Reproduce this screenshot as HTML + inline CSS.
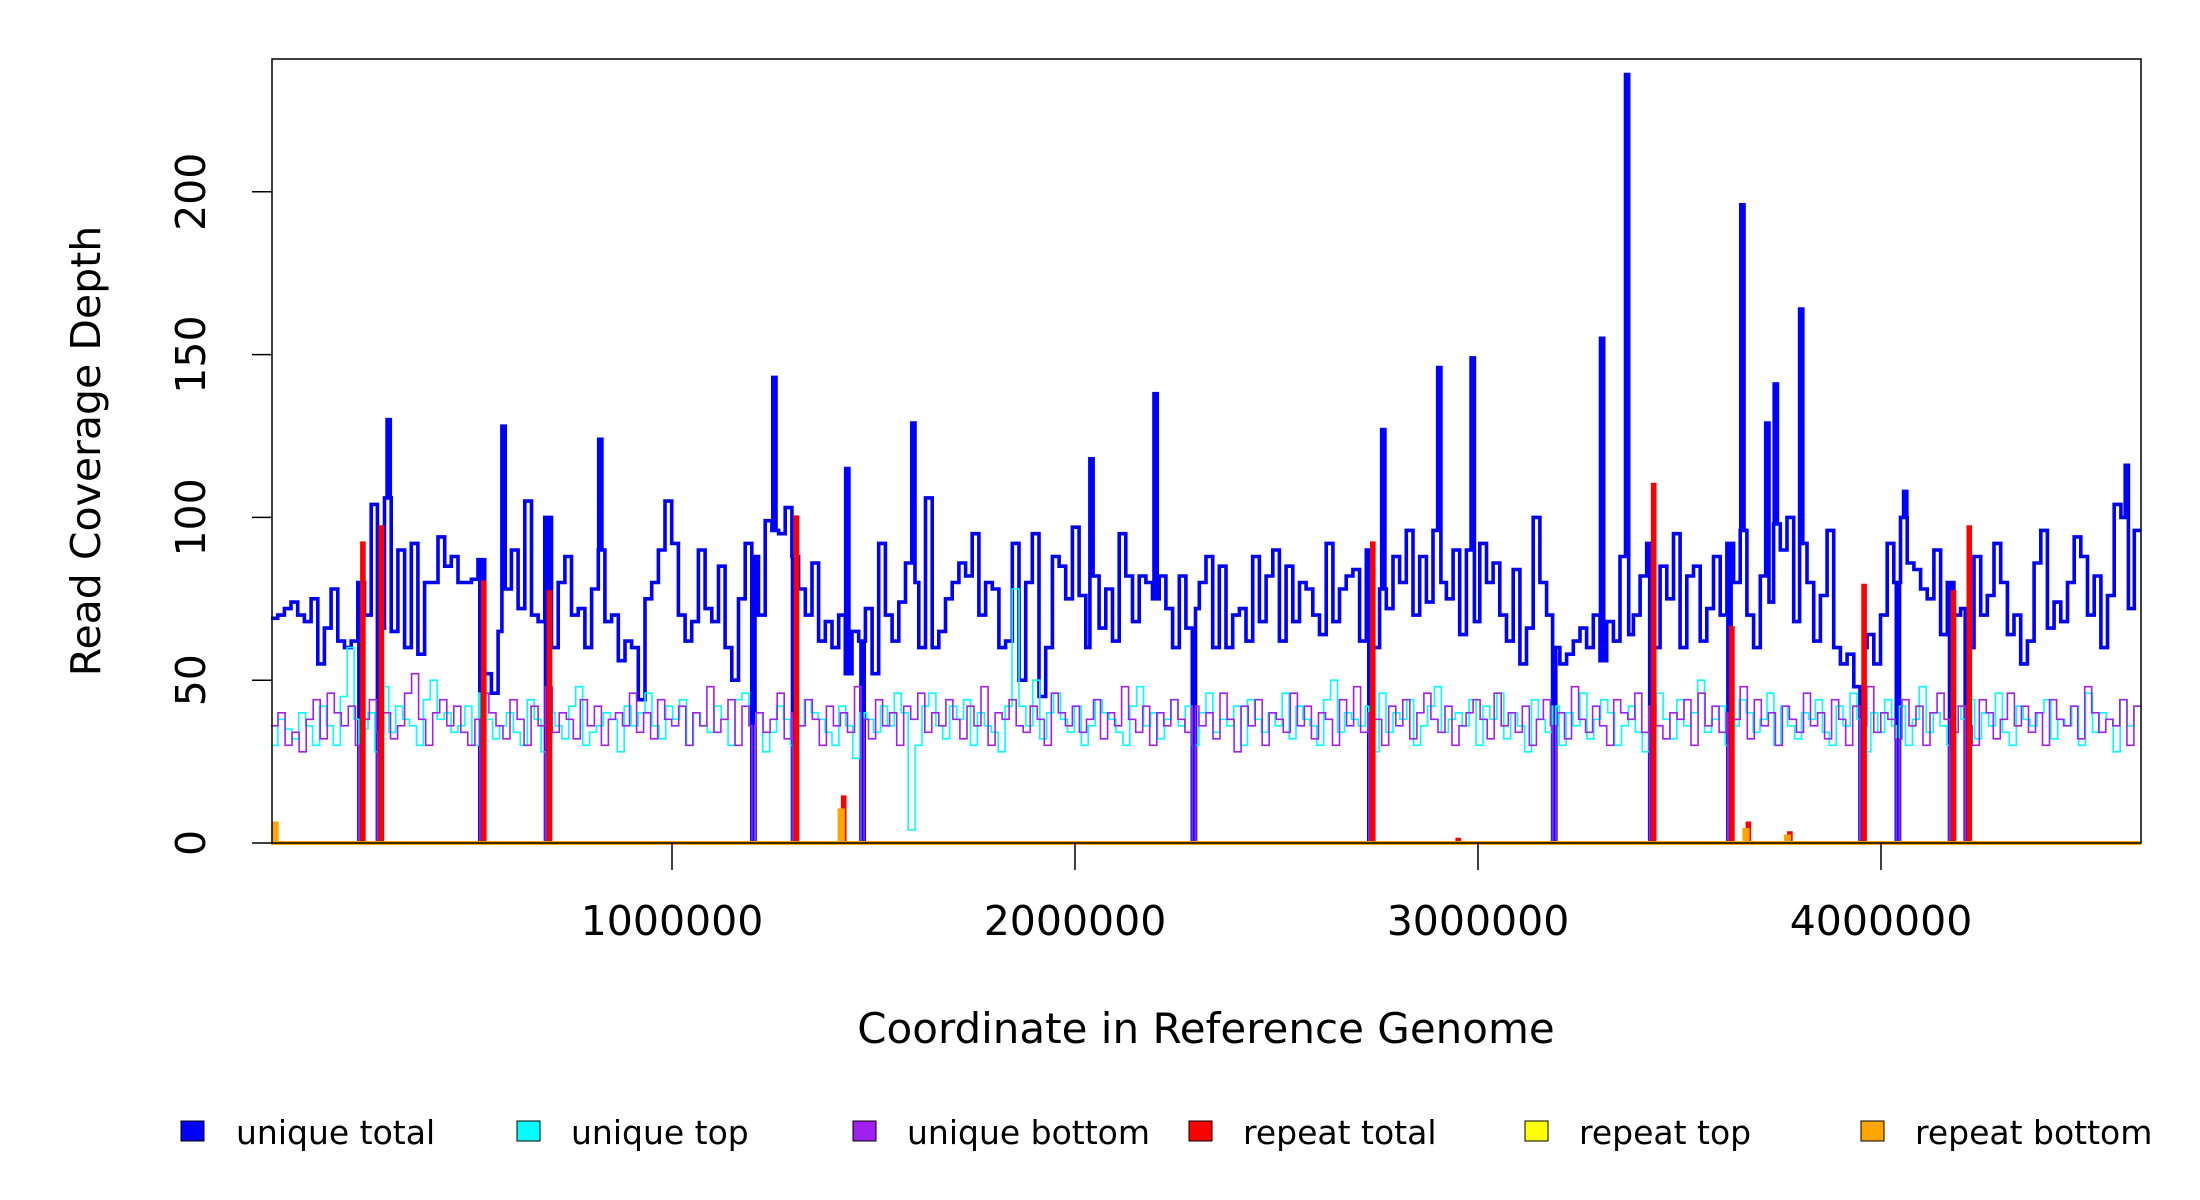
<!DOCTYPE html>
<html><head><meta charset="utf-8">
<style>
html,body{margin:0;padding:0;background:#fff;}
svg{display:block;font-family:"DejaVu Sans","Liberation Sans",sans-serif;}
</style></head>
<body>
<svg id="chart" width="2200" height="1200" viewBox="0 0 2200 1200" xmlns="http://www.w3.org/2000/svg">
  <rect x="0" y="0" width="2200" height="1200" fill="#fff"/>
  <g id="series"></g>
  <rect x="272" y="59" width="1869" height="784" fill="none" stroke="#000" stroke-width="1.5"/>
  <g id="axes"></g>
  <text x="1206" y="1043" font-size="42" text-anchor="middle">Coordinate in Reference Genome</text>
  <text transform="translate(100,451) rotate(-90)" font-size="41" text-anchor="middle">Read Coverage Depth</text>
  <g font-size="33">
    <g><rect x="181" y="1121" width="23" height="20" fill="#0000ff" stroke="#000"/><text x="236" y="1144">unique total</text></g>
    <g><rect x="517" y="1121" width="23" height="20" fill="#00ffff" stroke="#000"/><text x="571" y="1144">unique top</text></g>
    <g><rect x="853" y="1121" width="23" height="20" fill="#a020f0" stroke="#000"/><text x="907" y="1144">unique bottom</text></g>
    <g><rect x="1189" y="1121" width="23" height="20" fill="#ff0000" stroke="#000"/><text x="1243" y="1144">repeat total</text></g>
    <g><rect x="1525" y="1121" width="23" height="20" fill="#ffff00" stroke="#000"/><text x="1579" y="1144">repeat top</text></g>
    <g><rect x="1861" y="1121" width="23" height="20" fill="#ffa500" stroke="#000"/><text x="1915" y="1144">repeat bottom</text></g>
  </g>
</svg>
<script>
const xTicks = [1000000, 2000000, 3000000, 4000000];
const xTickLabels = ["1000000", "2000000", "3000000", "4000000"];
const yTicks = [0, 50, 100, 150, 200];
const yTickLabels = ["0", "50", "100", "150", "200"];
const genomeStart = 5000;
const genomeEnd = 4645000;
const uniqueTotal = [69,70,72,74,70,68,75,55,66,78,62,60,62,80,70,104,66,106,65,90,60,92,58,80,80,94,85,88,80,80,81,87,52,46,65,78,90,72,105,70,68,100,60,80,88,70,72,60,78,90,68,70,56,62,60,44,75,80,90,105,92,70,62,68,90,72,68,85,60,50,75,92,88,70,99,96,95,103,88,78,70,86,62,68,60,70,52,65,62,72,52,92,70,62,74,86,80,60,106,60,65,75,80,86,82,95,70,80,78,60,62,92,50,80,95,45,60,88,85,75,97,76,60,82,66,78,62,95,82,68,82,80,75,82,72,60,82,66,72,80,88,60,85,60,70,72,62,88,68,82,90,62,85,68,80,78,70,64,92,68,78,82,84,62,90,60,78,72,88,80,96,70,88,74,96,80,75,90,64,90,68,92,80,86,70,62,84,55,66,100,80,70,60,55,58,62,66,60,70,56,68,62,88,64,70,82,92,60,85,75,95,60,82,85,62,72,88,70,92,80,96,70,60,82,74,98,90,100,68,92,80,62,76,96,60,55,58,48,60,64,55,70,92,80,100,86,84,78,75,90,64,80,70,72,60,88,70,76,92,80,64,70,55,62,86,96,66,74,68,80,94,88,70,82,60,76,104,100,72,96];
const uniqueTop = [30,38,35,32,40,36,30,42,36,30,45,60,38,35,40,28,48,34,42,38,36,30,44,50,38,40,34,36,42,30,46,38,32,36,40,34,30,44,38,28,40,36,32,42,48,30,34,36,40,38,28,42,36,40,46,36,32,42,38,44,30,40,36,34,42,38,30,44,46,36,40,28,34,42,38,30,36,44,40,38,34,30,42,36,26,40,38,34,42,36,46,40,4,30,42,46,36,32,42,38,44,30,40,36,34,28,42,78,42,36,50,32,40,46,38,34,42,30,36,44,40,38,34,30,42,48,36,40,32,38,44,36,42,30,40,46,34,38,36,42,30,44,38,34,40,36,46,32,42,38,36,30,44,50,34,40,38,36,42,28,46,34,40,38,44,30,36,42,48,34,38,40,36,44,30,42,38,46,32,40,36,28,44,38,34,42,30,40,36,46,32,38,44,40,30,36,42,34,28,40,46,38,32,44,36,40,50,34,38,42,30,36,44,40,34,38,46,30,42,36,32,40,38,44,34,30,42,36,46,38,28,40,34,44,36,42,30,38,48,34,40,36,30,42,38,44,32,40,36,46,34,30,42,38,36,40,44,32,38,36,42,30,46,34,40,38,28,44,36,42];
const uniqueBottom = [36,40,30,34,28,38,44,32,46,40,36,42,30,38,44,34,40,32,36,46,52,38,30,40,44,36,42,34,30,38,46,40,36,32,44,38,30,42,36,48,34,40,38,32,44,36,42,30,38,40,36,46,34,40,32,44,38,36,42,30,40,36,48,34,38,44,30,42,36,40,34,38,46,32,40,36,44,38,30,42,36,40,34,48,38,32,44,36,40,30,42,38,46,34,40,36,44,38,32,42,36,48,30,40,38,44,36,34,42,38,30,46,40,36,42,34,38,44,32,40,36,48,38,34,42,30,40,36,44,38,34,42,36,40,32,46,38,28,42,36,44,30,40,38,34,46,36,42,32,40,38,30,44,36,48,34,40,38,30,42,36,44,32,40,46,38,34,42,30,36,40,44,38,32,46,36,40,34,42,30,38,44,36,40,32,48,38,34,42,36,30,44,40,38,46,34,42,36,32,40,38,44,30,46,36,42,34,40,38,48,32,44,36,40,30,42,38,34,46,36,40,32,44,38,30,42,36,48,34,40,38,32,44,36,42,30,40,46,38,34,42,36,30,44,40,32,38,46,36,42,34,40,30,44,38,36,42,32,48,40,34,38,36,44,30,42];
const spikePositions = [297000,582000,822000,1254000,1435000,1599000,2200000,2904000,2987000,3308000,3370000,3656000,3718000,3739000,3802000,2765000,2041000,4060000,4610000];
const spikeValues = [130,128,124,143,115,129,138,146,149,155,236,196,129,141,164,127,118,108,116];
const dropoutPositions = [227000,273000,527000,690000,1202000,1303000,1473000,2295000,2733000,3189000,3430000,3624000,3952000,4042000,4174000,4213000];
const repeatTotalPositions = [227000,273000,527000,690000,1303000,2733000,3430000,3624000,3952000,4174000,4213000,1420000,3665000,3768000,2945000];
const repeatTotalValues = [92,97,80,77,100,92,110,66,79,77,97,14,6,3,1];
const repeatBottomPositions = [15000,1420000,3665000,3768000];
const repeatBottomValues = [6,10,4,2];

const NS = "http://www.w3.org/2000/svg";
function xs(g){ return 269 + 403 * g / 1e6; }
function ys(v){ return 843 - v * 3.256; }
const W = 8000;

function steps(base, overrides){
  const n = base.length, bw = (genomeEnd - genomeStart) / n;
  let b = [];
  for (let i = 0; i <= n; i++) b.push(genomeStart + i * bw);
  overrides.forEach(o => { b.push(o[0]); b.push(o[1]); });
  b = b.filter(v => v >= genomeStart && v <= genomeEnd).sort((a, c) => a - c);
  let d = "", first = true;
  for (let i = 0; i < b.length - 1; i++) {
    if (b[i + 1] - b[i] < 1) continue;
    const m = (b[i] + b[i + 1]) / 2;
    let v = base.length ? base[Math.min(n - 1, Math.floor((m - genomeStart) / bw))] : 0;
    overrides.forEach(o => { if (m > o[0] && m < o[1]) v = o[2]; });
    const x0 = xs(b[i]).toFixed(1), x1 = xs(b[i + 1]).toFixed(1), y = ys(v).toFixed(1);
    d += (first ? "M" + x0 + "," + y : "V" + y + "H" + x0) + "H" + x1;
    first = false;
  }
  return d;
}
function zeros(n){ const a = []; for (let i = 0; i < n; i++) a.push(0); return a; }

const layer = document.getElementById("series");
function addPath(d, color, w, name){
  const p = document.createElementNS(NS, "path");
  p.setAttribute("d", d);
  p.setAttribute("fill", "none");
  p.setAttribute("stroke", color);
  p.setAttribute("stroke-width", w);
  
  
  layer.appendChild(p);
}
const drop = dropoutPositions.map(p => [p - W / 2, p + W / 2, 0]);
const spk = spikePositions.map((p, i) => [p - W / 2, p + W / 2, spikeValues[i]]);
addPath(steps(uniqueTotal, spk.concat(drop)), "#0000ff", 3.6, "series-unique-total");
addPath(steps(uniqueTop, drop), "#00ffff", 1.6, "series-unique-top");
addPath(steps(uniqueBottom, drop), "#a020f0", 1.6, "series-unique-bottom");
addPath(steps(zeros(1), repeatTotalPositions.map((p, i) => [p + W / 2, p + W / 2 + 4000, repeatTotalValues[i]])), "#ff0000", 4, "series-repeat-total");
addPath(steps(zeros(1), []), "#ffff00", 4, "series-repeat-top");
addPath(steps(zeros(1), repeatBottomPositions.map((p, i) => [p - W / 2, p + W / 2, repeatBottomValues[i]])), "#ffa500", 4, "series-repeat-bottom");

const axes = document.getElementById("axes");
xTicks.forEach((t, i) => {
  const l = document.createElementNS(NS, "line");
  l.setAttribute("x1", xs(t)); l.setAttribute("x2", xs(t));
  l.setAttribute("y1", 843); l.setAttribute("y2", 870);
  l.setAttribute("stroke", "#000"); l.setAttribute("stroke-width", 1.5);
  
  
  axes.appendChild(l);
  const tx = document.createElementNS(NS, "text");
  tx.setAttribute("x", xs(t)); tx.setAttribute("y", 935);
  tx.setAttribute("font-size", "41"); tx.setAttribute("text-anchor", "middle");
  tx.textContent = xTickLabels[i];
  
  
  axes.appendChild(tx);
});
yTicks.forEach((t, i) => {
  const l = document.createElementNS(NS, "line");
  l.setAttribute("x1", 252); l.setAttribute("x2", 272);
  l.setAttribute("y1", ys(t)); l.setAttribute("y2", ys(t));
  l.setAttribute("stroke", "#000"); l.setAttribute("stroke-width", 1.5);
  
  
  axes.appendChild(l);
  const tx = document.createElementNS(NS, "text");
  tx.setAttribute("transform", "translate(205," + ys(t) + ") rotate(-90)");
  tx.setAttribute("font-size", "41"); tx.setAttribute("text-anchor", "middle");
  tx.textContent = yTickLabels[i];
  
  
  axes.appendChild(tx);
});
</script>
</body></html>
